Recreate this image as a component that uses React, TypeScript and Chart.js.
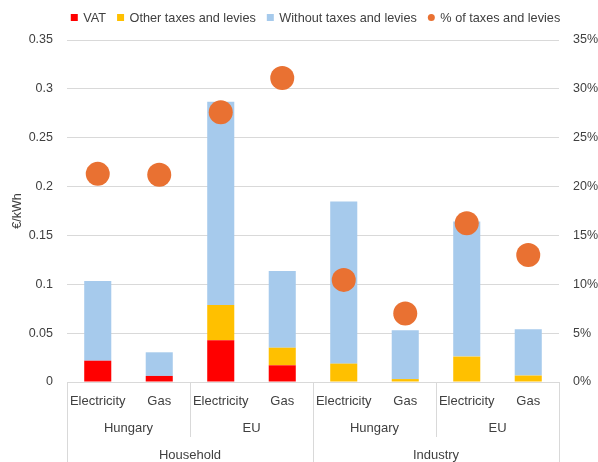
import { useEffect, useRef } from 'react';
import { Chart, registerables } from 'chart.js';

Chart.register(...registerables);

// Price components in €/kWh, one entry per category (sector > region > energy)
const categories = ['Electricity', 'Gas', 'Electricity', 'Gas', 'Electricity', 'Gas', 'Electricity', 'Gas'];
const regions = ['Hungary', 'EU', 'Hungary', 'EU'];
const sectors = ['Household', 'Industry'];

const vat = [0.0218, 0.0062, 0.0427, 0.0171, 0, 0, 0, 0];
const otherTaxes = [0, 0, 0.0361, 0.018, 0.0188, 0.003, 0.026, 0.0066];
const withoutTaxes = [0.0816, 0.0242, 0.2081, 0.0785, 0.1659, 0.0499, 0.1382, 0.0473];
// Share of taxes and levies in the final price, %
const taxShare = [21.3, 21.2, 27.6, 31.1, 10.45, 7.0, 16.25, 13.0];

const FONT = "'Liberation Sans', Arial, sans-serif";
const TEXT = '#404040';
const GRID = '#D9D9D9';
const RED = '#FF0000';
const YELLOW = '#FFC000';
const BLUE = '#A6CAEC';
const ORANGE = '#E97132';

// Second and third rows of the category axis, with their separators
const groupAxisPlugin = {
  id: 'groupAxis',
  afterDraw(chart: any) {
    const { ctx, chartArea } = chart;
    const x = chart.scales.x;
    const n = categories.length;
    const slot = x.getPixelForValue(1) - x.getPixelForValue(0);
    const edge = (i: number) => x.getPixelForValue(i) - slot / 2;
    const top = chartArea.bottom;
    const perRegion = n / regions.length;
    const perSector = n / sectors.length;

    ctx.save();
    ctx.strokeStyle = GRID;
    ctx.lineWidth = 1;
    for (let i = 0; i <= n; i += perRegion) {
      const px = Math.round(edge(i)) + 0.5;
      const full = i % perSector === 0;
      ctx.beginPath();
      ctx.moveTo(px, top);
      ctx.lineTo(px, full ? chart.height : top + 55);
      ctx.stroke();
    }

    ctx.fillStyle = TEXT;
    ctx.font = `13px ${FONT}`;
    ctx.textAlign = 'center';
    ctx.textBaseline = 'middle';
    regions.forEach((r, j) => {
      const cx = (edge(j * perRegion) + edge((j + 1) * perRegion)) / 2;
      ctx.fillText(r, cx, top + 46.5);
    });
    sectors.forEach((s, j) => {
      const cx = (edge(j * perSector) + edge((j + 1) * perSector)) / 2;
      ctx.fillText(s, cx, top + 73.5);
    });
    ctx.restore();
  },
};

// Single-row legend above the plot
const legendPlugin = {
  id: 'topLegend',
  afterDraw(chart: any) {
    const { ctx, chartArea } = chart;
    const items = chart.data.datasets.map((d: any) => ({
      label: d.label as string,
      color: d.backgroundColor as string,
      round: d.type === 'line',
    }));
    ctx.save();
    ctx.font = `12.7px ${FONT}`;
    ctx.textBaseline = 'middle';
    ctx.textAlign = 'left';
    const box = 7;
    const boxGap = 5.5;
    const itemGap = 11;
    const widths = items.map((it: any) => box + boxGap + ctx.measureText(it.label).width);
    const total = widths.reduce((a: number, b: number) => a + b, 0) + itemGap * (items.length - 1);
    let cur = (chartArea.left + chartArea.right) / 2 + 2.5 - total / 2;
    const cy = 17.5;
    items.forEach((it: any, i: number) => {
      ctx.fillStyle = it.color;
      if (it.round) {
        ctx.beginPath();
        ctx.arc(cur + box / 2, cy, box / 2, 0, Math.PI * 2);
        ctx.fill();
      } else {
        ctx.fillRect(cur, cy - box / 2, box, box);
      }
      ctx.fillStyle = TEXT;
      ctx.fillText(it.label, cur + box + boxGap, cy + 0.5);
      cur += widths[i] + itemGap;
    });
    ctx.restore();
  },
};

export default function App() {
  const canvasRef = useRef<HTMLCanvasElement | null>(null);

  useEffect(() => {
    document.body.style.margin = '0';
    const canvas = canvasRef.current;
    if (!canvas) return;

    const barCommon = {
      type: 'bar' as const,
      yAxisID: 'y',
      borderWidth: 0,
      barPercentage: 0.44,
      categoryPercentage: 1,
      order: 1,
    };

    const chart = new Chart(canvas, {
      data: {
        labels: categories,
        datasets: [
          { ...barCommon, label: 'VAT', data: vat, backgroundColor: RED },
          { ...barCommon, label: 'Other taxes and levies', data: otherTaxes, backgroundColor: YELLOW },
          { ...barCommon, label: 'Without taxes and levies', data: withoutTaxes, backgroundColor: BLUE },
          {
            type: 'line' as const,
            label: '% of taxes and levies',
            data: taxShare,
            yAxisID: 'y2',
            showLine: false,
            backgroundColor: ORANGE,
            borderColor: ORANGE,
            pointRadius: 12,
            pointBorderWidth: 0,
            pointHoverRadius: 12,
            order: 0,
          },
        ],
      } as any,
      options: {
        responsive: false,
        animation: false,
        layout: { padding: { top: 40, left: 0, right: 0, bottom: 0 } },
        plugins: {
          legend: { display: false },
          tooltip: { enabled: false },
        },
        scales: {
          x: {
            stacked: true,
            grid: { display: false },
            border: { display: false },
            ticks: {
              color: TEXT,
              font: { family: FONT, size: 13 },
              padding: 4,
              maxRotation: 0,
              autoSkip: false,
            },
            afterFit(scale: any) {
              scale.height = 80;
            },
          },
          y: {
            stacked: true,
            position: 'left',
            min: 0,
            max: 0.35,
            grid: { color: GRID, drawTicks: false },
            border: { display: false },
            ticks: {
              stepSize: 0.05,
              padding: 14,
              color: TEXT,
              font: { family: FONT, size: 12.5 },
              callback: (v: any) => String(Number(Number(v).toFixed(2))),
            },
            title: {
              display: true,
              text: '€/kWh',
              color: TEXT,
              font: { family: FONT, size: 12.5 },
              padding: { top: 10.5, bottom: 0 },
            },
            afterFit(scale: any) {
              scale.width = 67;
            },
          },
          y2: {
            position: 'right',
            min: 0,
            max: 35,
            grid: { display: false, drawTicks: false },
            border: { display: false },
            ticks: {
              stepSize: 5,
              padding: 14,
              color: TEXT,
              font: { family: FONT, size: 12.5 },
              callback: (v: any) => `${Math.round(Number(v))}%`,
            },
            afterFit(scale: any) {
              scale.width = 39;
            },
          },
        },
      } as any,
      plugins: [groupAxisPlugin, legendPlugin],
    });

    return () => chart.destroy();
  }, []);

  return (
    <div style={{ position: 'relative', width: 598, height: 462, background: '#fff' }}>
      <canvas ref={canvasRef} width={598} height={462} />
    </div>
  );
}
